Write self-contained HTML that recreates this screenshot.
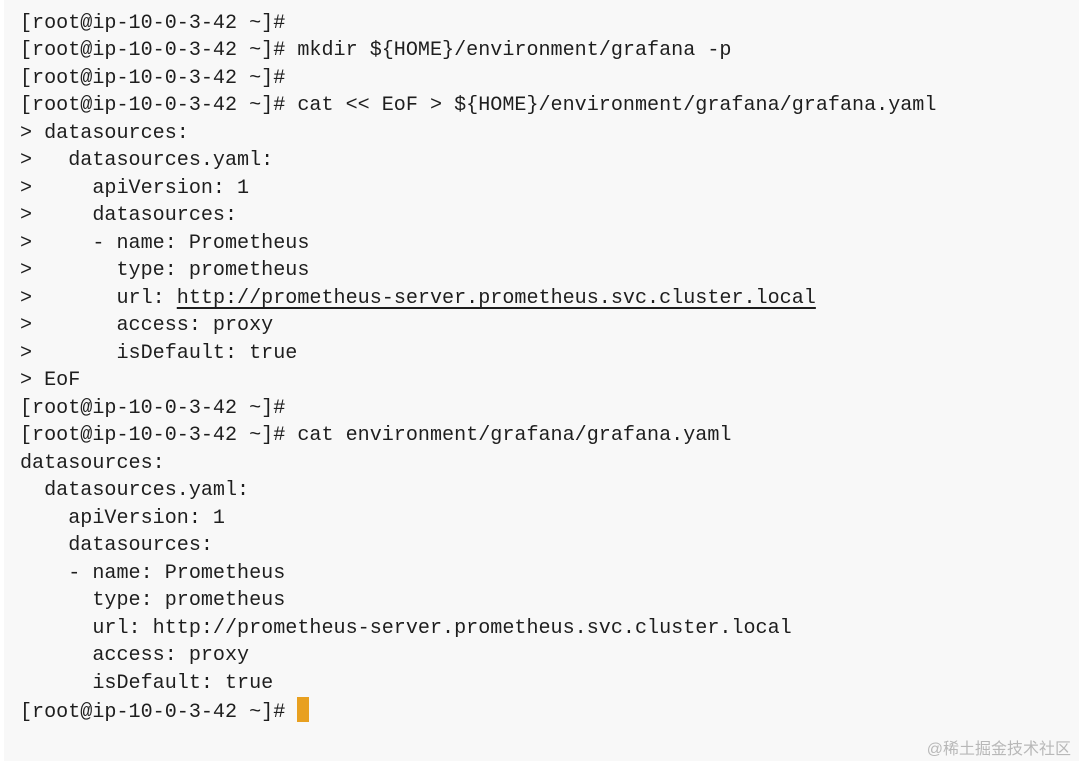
<!DOCTYPE html>
<html><head><meta charset="utf-8"><style>
html,body{margin:0;padding:0;background:#fff;}
.box{position:absolute;left:4px;top:0;width:1075px;height:761px;background:#f8f8f8;}
pre{position:absolute;left:20px;top:10px;margin:0;font-family:"Liberation Mono",monospace;font-size:20.1px;line-height:27.48px;color:#1e1e1e;}
.u{text-decoration:underline;text-underline-offset:4px;}
.cur{display:inline-block;width:12px;height:25px;background:#e8a020;vertical-align:-5px;}
.wm{position:absolute;right:8px;top:735px;font-family:"Liberation Sans","Noto Sans CJK SC",sans-serif;font-size:16px;color:#b8b8b8;}
</style></head><body>
<div class="box"></div>
<pre>[root@ip-10-0-3-42 ~]#
[root@ip-10-0-3-42 ~]# mkdir ${HOME}/environment/grafana -p
[root@ip-10-0-3-42 ~]#
[root@ip-10-0-3-42 ~]# cat &lt;&lt; EoF &gt; ${HOME}/environment/grafana/grafana.yaml
&gt; datasources:
&gt;   datasources.yaml:
&gt;     apiVersion: 1
&gt;     datasources:
&gt;     - name: Prometheus
&gt;       type: prometheus
&gt;       url: <span class="u">http://prometheus-server.prometheus.svc.cluster.local</span>
&gt;       access: proxy
&gt;       isDefault: true
&gt; EoF
[root@ip-10-0-3-42 ~]#
[root@ip-10-0-3-42 ~]# cat environment/grafana/grafana.yaml
datasources:
  datasources.yaml:
    apiVersion: 1
    datasources:
    - name: Prometheus
      type: prometheus
      url: http://prometheus-server.prometheus.svc.cluster.local
      access: proxy
      isDefault: true
[root@ip-10-0-3-42 ~]# <span class="cur"></span></pre>
<div class="wm">@稀土掘金技术社区</div>
</body></html>
